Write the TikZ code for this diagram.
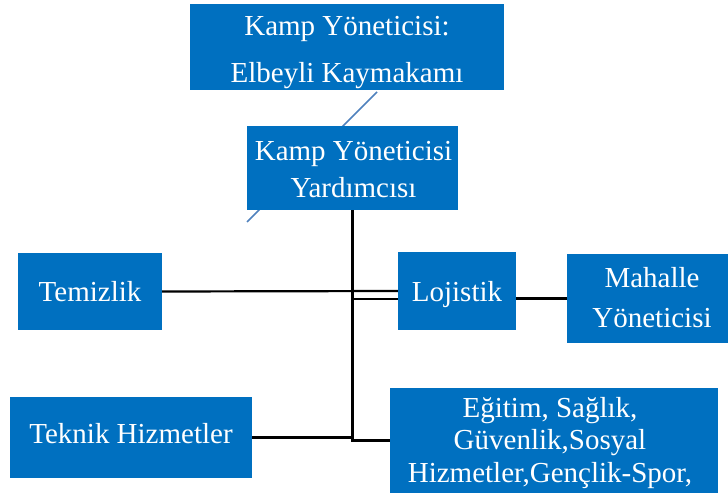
\documentclass[tikz,border=0pt]{standalone}
\usepackage{fontspec}
\setmainfont{Liberation Serif}
\definecolor{boxblue}{RGB}{0,112,192}
\definecolor{linkblue}{RGB}{79,129,189}
\begin{document}
\begin{tikzpicture}[x=1pt,y=-1pt,
  box/.style={fill=boxblue, draw=none, inner sep=0pt},
  txt/.style={text=white, align=center, anchor=base, inner sep=0pt},
  conn/.style={black, line width=2.2pt},
  diag/.style={linkblue, line width=1.6pt}]
\useasboundingbox (0,0) rectangle (728,495);
% diagonal link behind second box
\coordinate (d1) at (377,92);
\coordinate (d2) at (247,222);
\draw[diag] (d1) -- (d2);
% boxes
\node[box, minimum width=314pt, minimum height=86pt] (top) at (347,47) {};
\node[box, minimum width=211pt, minimum height=84pt] (yard) at (352.5,168) {};
\node[box, minimum width=144pt, minimum height=77pt] (temiz) at (90,291.5) {};
\node[box, minimum width=118pt, minimum height=78pt] (loj) at (457,291) {};
\node[box, minimum width=170pt, minimum height=89pt] (mah) at (652,298.5) {};
\node[box, minimum width=242pt, minimum height=81pt] (tek) at (131,437.5) {};
\node[box, minimum width=328pt, minimum height=105pt] (egi) at (554,440.5) {};
% texts (base anchor = baseline of last line)
\node[txt, font=\fontsize{29}{47}\selectfont] (ttop) at (347,82) {Kamp Yöneticisi:\\Elbeyli Kaymakamı};
\node[txt, font=\fontsize{29}{37}\selectfont] (tyard) at (353.5,197) {Kamp Yöneticisi\\Yardımcısı};
\node[txt, font=\fontsize{29}{35}\selectfont] (ttemiz) at (90,301) {Temizlik};
\node[txt, font=\fontsize{29}{35}\selectfont] (tloj) at (457,301) {Lojistik};
\node[txt, font=\fontsize{29}{40}\selectfont] (tmah) at (652,327) {Mahalle\\Yöneticisi};
\node[txt, font=\fontsize{29}{35}\selectfont] (ttek) at (131,443) {Teknik Hizmetler};
\node[txt, font=\fontsize{29}{32.5}\selectfont] (tegi) at (550,482) {Eğitim, Sağlık,\\Güvenlik,Sosyal\\Hizmetler,Gençlik-Spor,};
% connectors
\draw[conn] (yard.south) |- (egi.west);
\draw[conn] (temiz.east) -- (loj.west);
\draw[conn] ([yshift=-8pt]loj.west) -- ([yshift=-8pt]yard.south |- loj.west);
\draw[conn] (loj.east |- mah.west) -- (mah.west);
\draw[conn] (tek.east) -- (tek.east -| yard.south);
\end{tikzpicture}
\end{document}
